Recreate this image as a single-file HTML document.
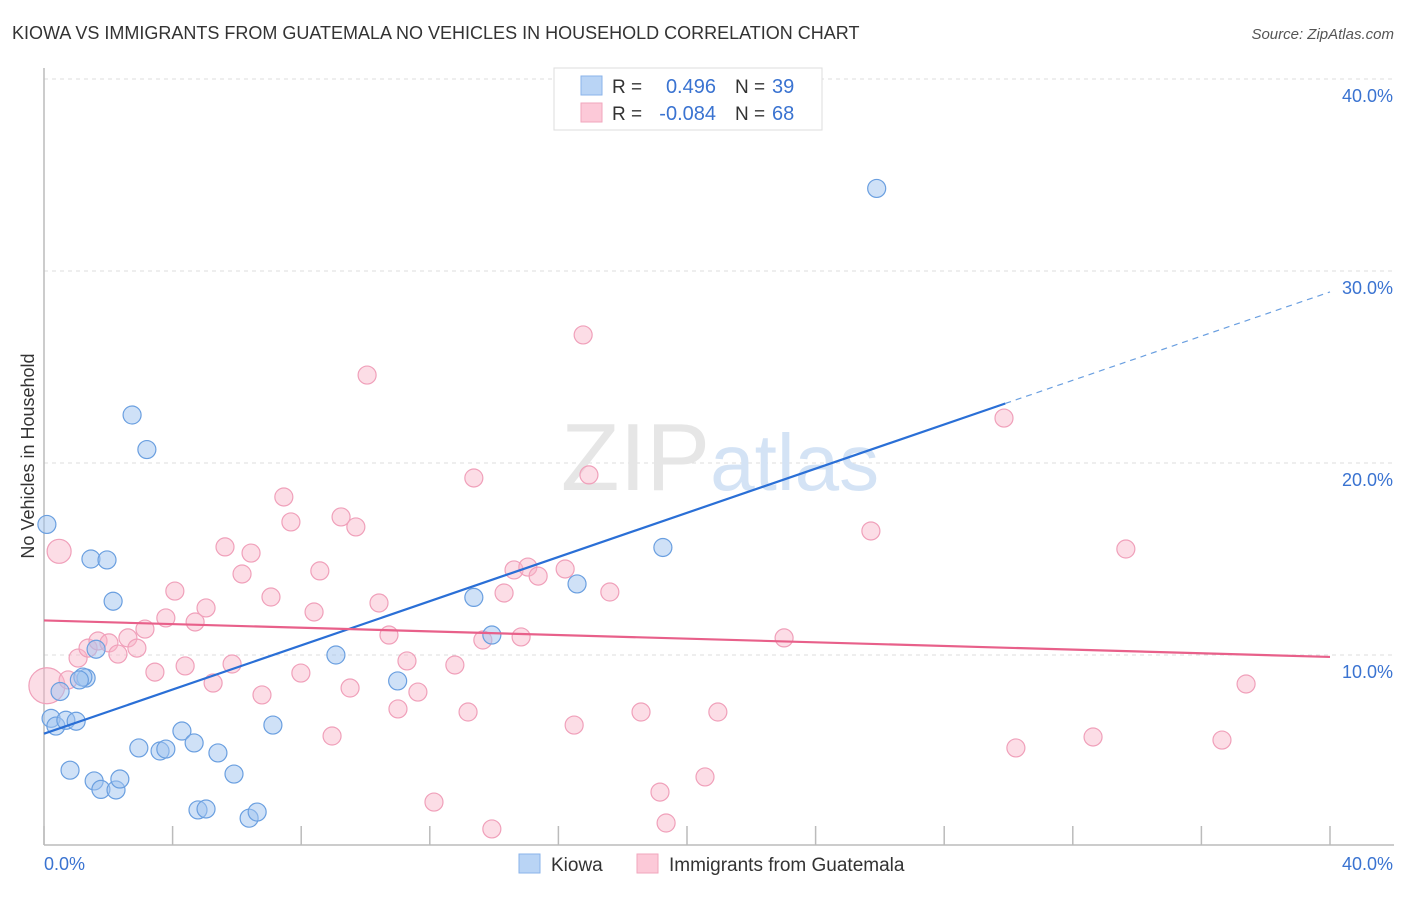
<!DOCTYPE html>
<html><head><meta charset="utf-8"><style>
body{margin:0;background:#fff;font-family:"Liberation Sans",sans-serif;}
svg text{font-family:"Liberation Sans",sans-serif;}
</style></head><body>
<svg id="chart" width="1406" height="892" viewBox="0 0 1406 892" xmlns="http://www.w3.org/2000/svg">
<text x="12" y="39" font-size="18" fill="#333">KIOWA VS IMMIGRANTS FROM GUATEMALA NO VEHICLES IN HOUSEHOLD CORRELATION CHART</text>
<text x="1394" y="39" font-size="15" fill="#555" text-anchor="end" font-style="italic">Source: ZipAtlas.com</text>
<g id="grid"></g>
<text x="720" y="490" font-size="96" text-anchor="middle" fill="#e6e6e6" font-family="Liberation Serif,serif">ZIP<tspan fill="#d4e3f5" font-family="Liberation Sans,sans-serif" font-size="80">atlas</tspan></text>
<g id="axes"></g>
<g id="pts"></g>
<g id="trends"></g>
<text transform="translate(34,456) rotate(-90)" font-size="18" fill="#333" text-anchor="middle">No Vehicles in Household</text>
<g>
<rect x="554" y="68" width="268" height="62" fill="#fff" stroke="#ddd"/>
<rect x="581" y="76" width="21" height="19" fill="#b9d4f5" stroke="#8ab3ea"/>
<rect x="581" y="103" width="21" height="19" fill="#fcc9d8" stroke="#f1a6bd"/>
<text x="612" y="93" font-size="19" fill="#333">R =</text>
<text x="716" y="93" font-size="20" fill="#3a73d1" text-anchor="end">0.496</text>
<text x="735" y="93" font-size="19" fill="#333">N =</text>
<text x="772" y="93" font-size="20" fill="#3a73d1">39</text>
<text x="612" y="120" font-size="19" fill="#333">R =</text>
<text x="716" y="120" font-size="20" fill="#3a73d1" text-anchor="end">-0.084</text>
<text x="735" y="120" font-size="19" fill="#333">N =</text>
<text x="772" y="120" font-size="20" fill="#3a73d1">68</text>
</g>
<g>
<rect x="519" y="854" width="21" height="19" fill="#b9d4f5" stroke="#8ab3ea"/>
<text x="551" y="871" font-size="19" fill="#333">Kiowa</text>
<rect x="637" y="854" width="21" height="19" fill="#fcc9d8" stroke="#f1a6bd"/>
<text x="669" y="871" font-size="19" fill="#333">Immigrants from Guatemala</text>
</g>
</svg>
<script>
const xTicks=[0,4,8,12,16,20,24,28,32,36,40];
const yTicks=[10,20,30,40];
const yTickLabels=["10.0%","20.0%","30.0%","40.0%"];
const xEndLabels=["0.0%","40.0%"];
const kiowaX=[0.09,2.74,3.2,25.9,1.46,1.96,2.15,1.62,1.31,0.5,0.22,0.37,0.68,1.0,0.81,1.56,1.77,2.24,2.36,2.95,3.61,3.79,4.29,4.67,5.41,5.91,4.79,5.04,6.38,6.63,7.12,9.08,11.0,13.37,13.93,16.58,19.25,1.21,1.1];
const kiowaY=[16.8,22.5,20.7,34.3,15.0,14.95,12.8,10.3,8.8,8.1,6.7,6.3,6.6,6.55,4.0,3.44,3.0,2.97,3.54,5.16,5.0,5.1,6.04,5.42,4.9,3.8,1.93,1.98,1.5,1.82,6.35,10.0,8.65,13.0,11.04,13.7,15.6,8.85,8.7];
const guatX=[0.09,0.47,0.75,1.06,1.37,1.68,2.02,2.3,2.61,2.89,3.14,3.45,3.79,4.07,4.39,4.7,5.04,5.26,5.63,5.85,6.16,6.44,6.78,7.06,7.46,7.68,7.99,8.4,8.58,8.96,9.24,9.52,9.7,10.05,10.42,10.73,11.01,11.29,11.63,12.13,12.78,13.19,13.37,13.65,13.93,14.31,14.62,14.84,15.05,15.37,16.21,16.49,16.77,16.95,17.6,18.57,19.16,19.35,20.56,20.96,23.02,25.72,29.86,30.23,32.63,33.65,36.64,37.39];
const guatY=[8.4,15.4,8.7,9.84,10.36,10.73,10.63,10.05,10.89,10.36,11.35,9.11,11.93,13.33,9.43,11.72,12.45,8.54,15.63,9.53,14.22,15.31,7.92,13.02,18.23,16.93,9.06,12.24,14.38,5.78,17.19,8.28,16.67,24.58,12.71,11.04,7.19,9.69,8.07,2.34,9.48,7.03,19.22,10.78,0.94,13.23,14.43,10.94,14.58,14.11,14.48,6.35,26.67,19.38,13.28,7.03,2.86,1.25,3.65,7.03,10.89,16.46,22.34,5.16,5.73,15.52,5.57,8.49];
const guatR=[18,12];
const kiowaTrend=[5.9,23.1,29.9];
const guatTrend=[11.8,9.9];
const NS="http://www.w3.org/2000/svg";
const sx=v=>44+v*32.15, sy=v=>847-v*19.2;
function mk(p,t,a){const e=document.createElementNS(NS,t);for(const k in a)e.setAttribute(k,a[k]);p.appendChild(e);return e;}
const grid=document.getElementById('grid'),axes=document.getElementById('axes'),pts=document.getElementById('pts'),tr=document.getElementById('trends');
yTicks.forEach((t,i)=>{
 const l=mk(grid,'line',{x1:44,x2:1394,y1:sy(t),y2:sy(t),stroke:'#ddd','stroke-dasharray':'4,4'});
 
 
 const tx=mk(axes,'text',{x:1393,y:sy(t)+23,'font-size':18,fill:'#3a73d1','text-anchor':'end'});
 tx.textContent=yTickLabels[i];
 
 
});
mk(axes,'line',{x1:44,x2:44,y1:68,y2:845,stroke:'#bbb','stroke-width':1.5});
mk(axes,'line',{x1:44,x2:1394,y1:845,y2:845,stroke:'#bbb','stroke-width':1.5});
xTicks.forEach(t=>{const l=mk(axes,'line',{x1:sx(t),x2:sx(t),y1:826,y2:845,stroke:'#bbb','stroke-width':1.5});
 
 });
const l0=mk(axes,'text',{x:44,y:870,'font-size':18,fill:'#3a73d1'});l0.textContent=xEndLabels[0];


const l1=mk(axes,'text',{x:1393,y:870,'font-size':18,fill:'#3a73d1','text-anchor':'end'});l1.textContent=xEndLabels[1];


guatX.forEach((x,i)=>{const c=mk(pts,'circle',{cx:sx(x),cy:sy(guatY[i]),r:guatR[i]||9,fill:'rgba(248,180,200,0.45)',stroke:'#f0a0ba','stroke-width':1.2});
 
 });
kiowaX.forEach((x,i)=>{const c=mk(pts,'circle',{cx:sx(x),cy:sy(kiowaY[i]),r:9,fill:'rgba(160,195,240,0.5)',stroke:'#6a9fe0','stroke-width':1.2});
 
 });
const kslope=(kiowaTrend[1]-kiowaTrend[0])/kiowaTrend[2];
const kt=mk(tr,'line',{x1:sx(0),y1:sy(kiowaTrend[0]),x2:sx(kiowaTrend[2]),y2:sy(kiowaTrend[1]),stroke:'#2a6fd6','stroke-width':2.2});


const kd=mk(tr,'line',{x1:sx(kiowaTrend[2]),y1:sy(kiowaTrend[1]),x2:sx(40),y2:sy(kiowaTrend[0]+kslope*40),stroke:'#6a9fe0','stroke-width':1.2,'stroke-dasharray':'6,5'});


const gt=mk(tr,'line',{x1:sx(0),y1:sy(guatTrend[0]),x2:sx(40),y2:sy(guatTrend[1]),stroke:'#e8608a','stroke-width':2.2});


</script>
</body></html>
